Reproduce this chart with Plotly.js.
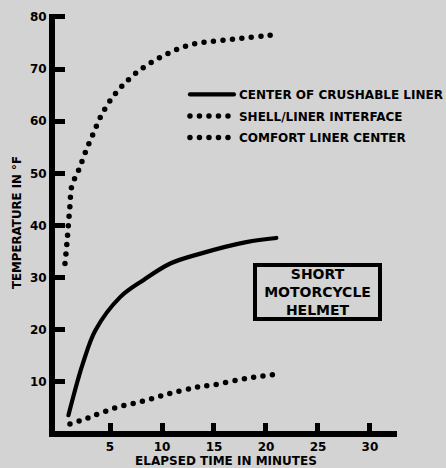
<!DOCTYPE html>
<html>
<head>
<meta charset="utf-8">
<script src="https://cdn.plot.ly/plotly-3.0.1.min.js"></script>
<style>
html,body{margin:0;padding:0;background:#d3d3d3;}
#chart{width:446px;height:468px;}
path.js-line{stroke-linecap:round;}
</style>
</head>
<body>
<div id="chart"></div>
<script>
// Elapsed time (minutes) and temperature (°F)
const crushableX = [1.0, 1.9, 2.4, 3.6, 6.0, 8.2, 10.8, 13.7, 18.1, 21.0];
const crushableY = [3.6, 10.3, 13.6, 19.9, 26.3, 29.5, 32.7, 34.6, 36.8, 37.6];

const shellX = [0.67, 0.84, 0.99, 1.15, 1.32, 2.02, 2.66, 3.40, 4.13, 5.10, 6.28, 7.66, 9.23, 10.9, 12.6, 14.3, 16.3, 18.1, 20.0, 21.0];
const shellY = [32.7, 36.2, 40.0, 43.8, 47.5, 50.8, 54.2, 57.7, 61.0, 64.2, 67.0, 69.5, 71.6, 73.3, 74.6, 75.2, 75.6, 76.0, 76.4, 76.6];

const comfortX = [1.15, 2.9, 5.5, 8.2, 10.8, 13.4, 14.9, 18.2, 21.3];
const comfortY = [1.9, 3.1, 5.0, 6.3, 7.8, 9.0, 9.4, 10.7, 11.5];

const seriesNames = ['CENTER OF CRUSHABLE LINER', 'SHELL/LINER INTERFACE', 'COMFORT LINER CENTER'];
const xTicks = [5, 10, 15, 20, 25, 30];
const xTickLabels = ['5', '10', '15', '20', '25', '30'];
const yTicks = [10, 20, 30, 40, 50, 60, 70, 80];
const yTickLabels = ['10', '20', '30', '40', '50', '60', '70', '80'];
const boxLabel = 'SHORT<br>MOTORCYCLE<br>HELMET';

const F = 'DejaVu Sans, Liberation Sans, sans-serif';
const dotDash = '0px,9.5px';

const traces = [
  {x: crushableX, y: crushableY, name: seriesNames[0], mode: 'lines', legendgroup: 'a',
   line: {color: '#000', width: 4.2, shape: 'spline', smoothing: 1}},
  {x: shellX, y: shellY, name: seriesNames[1], mode: 'lines', legendgroup: 'b',
   line: {color: '#000', width: 5.5, shape: 'spline', smoothing: 1, dash: dotDash}},
  {x: comfortX, y: comfortY, name: seriesNames[2], mode: 'lines', legendgroup: 'c',
   line: {color: '#000', width: 5.5, shape: 'spline', smoothing: 1, dash: dotDash}}
];

const layout = {
  width: 446, height: 468,
  paper_bgcolor: '#d3d3d3', plot_bgcolor: '#d3d3d3',
  margin: {l: 55, r: 49, t: 14, b: 36.5, autoexpand: false},
  font: {family: F, color: '#000', size: 11, weight: 700},
  showlegend: true,
  legend: {x: 0.38, y: 0.842, xanchor: 'left', yanchor: 'top', bgcolor: 'rgba(0,0,0,0)',
           font: {family: F, size: 12, color: '#000', weight: 700},
           traceorder: 'grouped', tracegroupgap: 2.5, itemwidth: 44},
  xaxis: {range: [-0.29, 32.6], showline: true, linewidth: 6, linecolor: '#000',
          ticks: 'inside', ticklen: 8, tickwidth: 5, tickcolor: '#000',
          tickvals: xTicks, ticktext: xTickLabels, showgrid: false, zeroline: false,
          tickfont: {family: F, size: 12, weight: 700},
          title: {text: 'ELAPSED TIME IN MINUTES', standoff: 5, font: {family: F, size: 12, weight: 700}}},
  yaxis: {range: [0.57, 80.57], showline: true, linewidth: 6, linecolor: '#000',
          ticks: 'inside', ticklen: 10, tickwidth: 5, tickcolor: '#000',
          tickvals: yTicks, ticktext: yTickLabels, showgrid: false, zeroline: false,
          tickfont: {family: F, size: 12, weight: 700},
          title: {text: 'TEMPERATURE IN °F', standoff: 8, font: {family: F, size: 11.8, weight: 700}}},
  annotations: [{
    x: 24.95, y: 27.3, xref: 'x', yref: 'y', text: boxLabel, showarrow: false,
    font: {family: F, size: 14, weight: 700, color: '#000'},
    bordercolor: '#000', borderwidth: 4, borderpad: 1, width: 119, height: 48,
    xanchor: 'center', yanchor: 'middle'
  }]
};

Plotly.newPlot('chart', traces, layout, {displayModeBar: false, staticPlot: true});
</script>
</body>
</html>
